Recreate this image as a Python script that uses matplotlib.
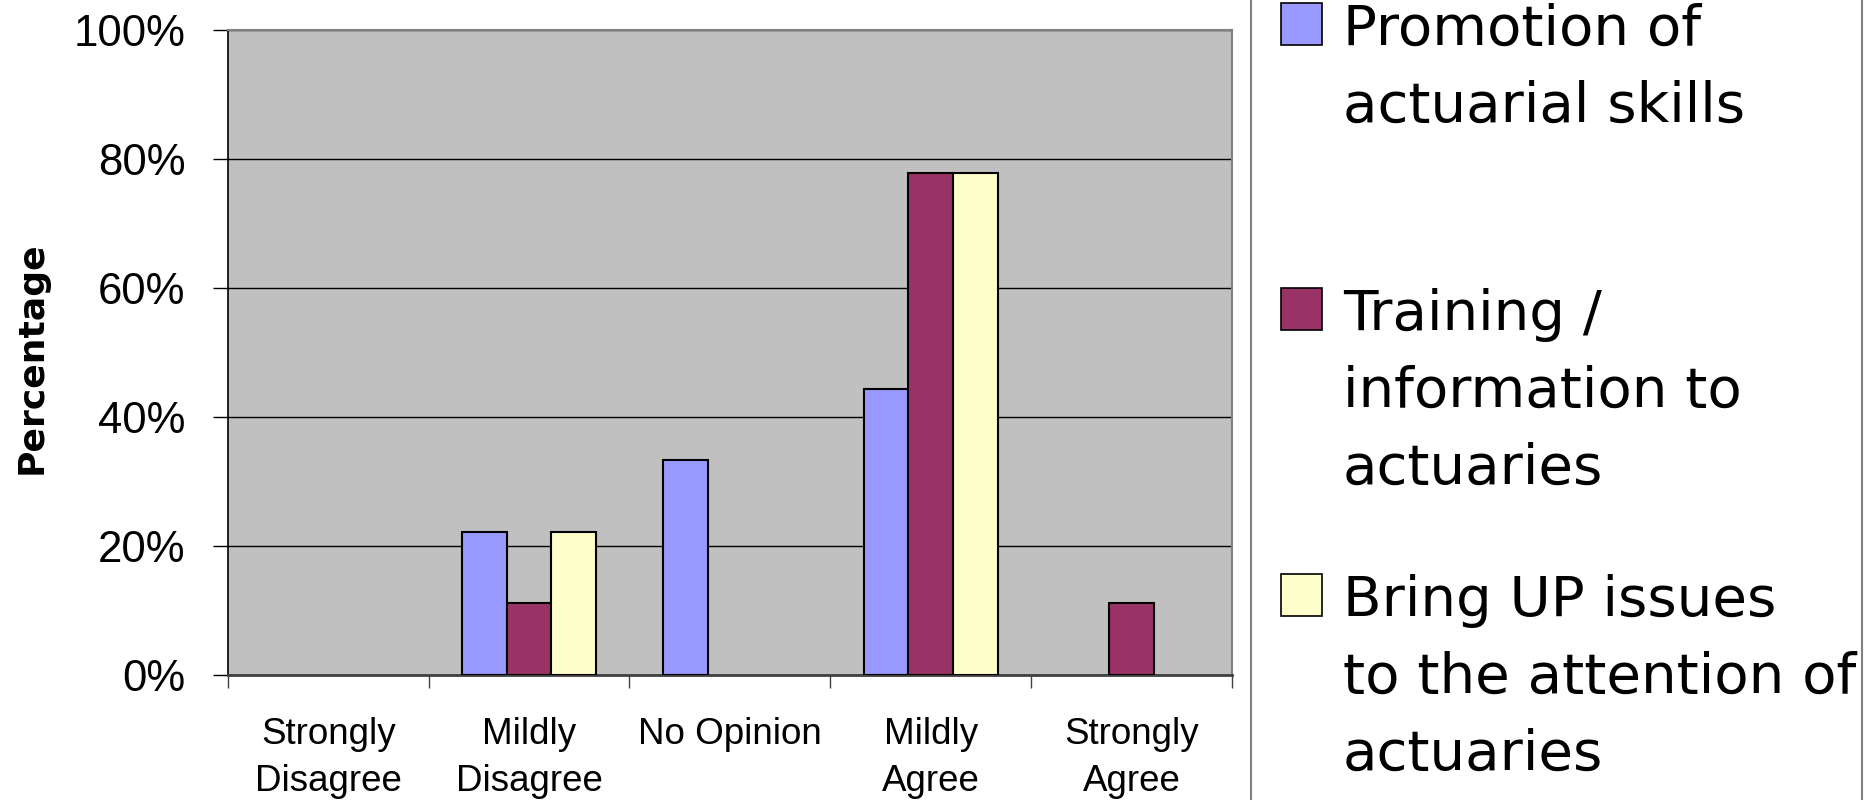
import matplotlib
matplotlib.use("Agg")
import matplotlib.pyplot as plt
import numpy as np
from matplotlib.patches import Rectangle
from matplotlib.ticker import PercentFormatter, FixedLocator

# survey answers (share of respondents per answer)
categories = ["Strongly\nDisagree", "Mildly\nDisagree", "No Opinion", "Mildly\nAgree", "Strongly\nAgree"]
series_names = [
    ["Promotion of", "actuarial skills"],
    ["Training /", "information to", "actuaries"],
    ["Bring UP issues", "to the attention of", "actuaries"],
]
promotion = [0.0, 0.222, 0.333, 0.444, 0.0]
training = [0.0, 0.111, 0.0, 0.778, 0.111]
bring_up = [0.0, 0.222, 0.0, 0.778, 0.0]
colors = ["#9999FF", "#993366", "#FFFFCC"]

W, H = 1868, 800
fig = plt.figure(figsize=(W / 100, H / 100), dpi=100)
ax = fig.add_axes([227.7 / W, 1 - 675 / H, (1232 - 227.7) / W, (675 - 30) / H])
ax.set_facecolor("#C0C0C0")

AXFONT = ["Liberation Sans", "DejaVu Sans"]
LEGFONT = ["DejaVu Sans"]

x = np.arange(len(categories)) + 0.5
bw = 2 / 9
for k, vals in enumerate([promotion, training, bring_up]):
    bars = ax.bar(x + (k - 1) * bw, vals, bw, color=colors[k], edgecolor="black",
                  linewidth=1.5, zorder=3)
    for b, v in zip(bars, vals):
        if v == 0:
            b.set_visible(False)

ax.set_xlim(0, len(categories))
ax.set_ylim(0, 1)
ax.yaxis.set_major_locator(FixedLocator(np.linspace(0, 1, 6)))
ax.yaxis.set_major_formatter(PercentFormatter(1.0, decimals=0))
ax.grid(axis="y", color="black", linewidth=1.0, zorder=1)
ax.set_axisbelow(True)

ax.set_xticks(np.arange(len(categories) + 1))
ax.set_xticklabels([])
ax.set_xticks(x, minor=True)
ax.set_xticklabels(categories, minor=True, fontsize=26.5, family=AXFONT,
                   linespacing=1.45, va="top")
ax.tick_params(axis="x", which="minor", length=0, pad=30)
ax.tick_params(axis="x", which="major", length=9, width=1.0, color="#404040",
               direction="out")
ax.tick_params(axis="y", length=10.5, width=1.0, pad=20, direction="out")
for lbl in ax.get_yticklabels():
    lbl.set_fontsize(31.5)
    lbl.set_family(AXFONT)

ax.spines["left"].set_color("black")
ax.spines["left"].set_linewidth(1.2)
ax.spines["bottom"].set_color("#404040")
ax.spines["bottom"].set_linewidth(2.0)
for s in ("top", "right"):
    ax.spines[s].set_color("#808080")
    ax.spines[s].set_linewidth(1.5)

fig.text(32 / W, 1 - 358 / H, "Percentage", rotation=90, ha="center", va="center",
         fontsize=26, fontweight="bold", family=LEGFONT)

# legend frame and entries
fig.patches.append(Rectangle((1251 / W, -0.05), (1862 - 1251) / W, 1.1,
                             transform=fig.transFigure, facecolor="none",
                             edgecolor="#808080", linewidth=1.5))
first_base = [45, 330, 616]
for k, lines in enumerate(series_names):
    base = first_base[k]
    fig.patches.append(Rectangle((1281 / W, 1 - base / H), 41 / W, 42 / H,
                                 transform=fig.transFigure, facecolor=colors[k],
                                 edgecolor="black", linewidth=1.2))
    for j, line in enumerate(lines):
        fig.text(1343 / W, 1 - (base + 77 * j) / H, line, ha="left", va="baseline",
                 fontsize=40.5, family=LEGFONT)

fig.savefig("out.png", dpi=100)
